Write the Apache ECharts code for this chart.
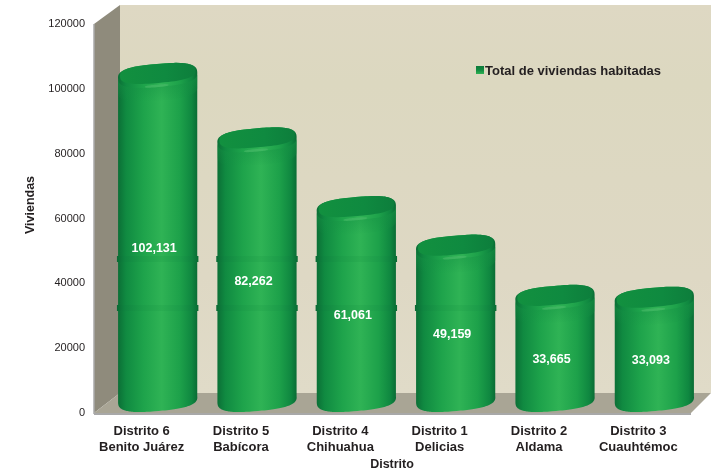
<!DOCTYPE html>
<html><head><meta charset="utf-8">
<style>html,body{margin:0;padding:0;background:#fff}#c{width:711px;height:471px}</style>
<script src="https://cdn.jsdelivr.net/npm/echarts@6/dist/echarts.min.js"></script>
</head><body><div id="c"></div>
<script>
const categories = ['Distrito 6\nBenito Juárez','Distrito 5\nBabícora','Distrito 4\nChihuahua','Distrito 1\nDelicias','Distrito 2\nAldama','Distrito 3\nCuauhtémoc'];
const viviendas = [102131, 82262, 61061, 49159, 33665, 33093];
const valueLabels = ['102,131','82,262','61,061','49,159','33,665','33,093'];
const seriesName = 'Total de viviendas habitadas';
const labelFont = '"Liberation Sans", Arial, sans-serif';

const TILT = -5 * Math.PI / 180, RY = 11.5, TOP_SHIFT = 6.5, BASE_SHIFT = 13.5, EXP = 0.72;
const spow = (a, e) => Math.sign(a) * Math.pow(Math.abs(a), e);
function ell(cx, cy, rx, ry, from, to) {
  const pts = [], n = 80, c = Math.cos(TILT), s = Math.sin(TILT);
  for (let i = 0; i <= n; i++) {
    const t = from + (to - from) * i / n, x = rx * spow(Math.cos(t), EXP), y = ry * spow(Math.sin(t), EXP);
    pts.push([cx + x * c - y * s, cy + x * s + y * c]);
  }
  return pts;
}
const bodyStops = [
  {offset:0,color:'#0b6f36'},{offset:.1,color:'#108a41'},{offset:.32,color:'#1ea34b'},
  {offset:.55,color:'#2fb355'},{offset:.78,color:'#1da14a'},{offset:.93,color:'#0f8740'},{offset:1,color:'#0a6c35'}];

function renderCyl(params, api) {
  const i = api.value(0), v = api.value(1);
  const band = api.size([1, 0])[0];
  const cx = api.coord([i, 0])[0];
  const rx = band * 0.4;
  const topY = api.coord([i, v])[1] - TOP_SHIFT;
  const baseY = api.coord([i, 0])[1] - BASE_SHIFT;
  const midY = api.coord([i, v / 2])[1] + 1.5;
  const outline = ell(cx, topY, rx, RY, Math.PI, 2 * Math.PI).concat(ell(cx, baseY, rx, RY, 0, Math.PI));
  const kids = [{ type:'polygon', shape:{points:outline},
    style:{fill:new echarts.graphic.LinearGradient(0,0,1,0,bodyStops)} }];
  // hoop rings
  [api.coord([i, 47500]), api.coord([i, 32400])].forEach(p => {
    if (p[1] - 12 > topY + RY) {
      kids.push({type:'rect', shape:{x:cx-rx-1,y:p[1]-3,width:2*rx+2,height:6},
        style:{fill:new echarts.graphic.LinearGradient(0,0,1,0,[
          {offset:0,color:'#0a6a34'},{offset:.1,color:'#0f8540'},{offset:.32,color:'#1c9e49'},{offset:.55,color:'#2aad51'},{offset:.78,color:'#1b9c49'},{offset:.93,color:'#0e823f'},{offset:1,color:'#0a6a34'}])}});
    }
  });
  // rim shading below the lid
  kids.push({type:'polygon', shape:{points:ell(cx, topY, rx, RY, 0, Math.PI).concat(ell(cx, topY+14, rx, RY, Math.PI, 0))},
    style:{fill:new echarts.graphic.LinearGradient(0,0,0,1,[{offset:0,color:'rgba(22,145,68,0.7)'},{offset:1,color:'rgba(22,145,68,0)'}])}});
  // lid
  kids.push({type:'polygon', shape:{points:ell(cx, topY-2, rx-2, RY-2, 0, 2*Math.PI)},
    style:{fill:new echarts.graphic.LinearGradient(0,0,1,0,[{offset:0,color:'#12903f'},{offset:.6,color:'#0f8a40'},{offset:1,color:'#0d7e3c'}])}});
  // highlight under the lid's front edge
  kids.push({type:'polygon', shape:{points:ell(cx-1, topY+RY-1, rx*0.3, 1.3, 0, 2*Math.PI)},
    style:{fill:'#4fbb6e',opacity:0.5}});
  kids.push({type:'text', style:{text:valueLabels[i], x:cx-3.5, y:midY, align:'center', verticalAlign:'middle',
    fill:'#fff', font:'bold 12.5px '+labelFont}});
  return {type:'group', children:kids};
}

const chart = echarts.init(document.getElementById('c'), null, {renderer:'canvas'});
const wall = (points, fill) => ({type:'polygon', silent:true, z:0, shape:{points}, style:{fill}});
chart.setOption({
  animation:false,
  backgroundColor:'#fff',
  grid:{left:108,right:7,top:24,bottom:58,containLabel:false,outerBoundsMode:'none'},
  graphic:{elements:[
    {type:'rect',silent:true,z:0,shape:{x:120,y:5,width:591,height:388},
      style:{fill:new echarts.graphic.LinearGradient(0,0,0,1,[{offset:0,color:'#ded8c3'},{offset:.2,color:'#dcd8c0'},{offset:.7,color:'#ded8c4'},{offset:1,color:'#e0dbc8'}])}},
    wall([[94,24],[120,5],[120,393],[94,413]],'#8f8b7c'),
    wall([[94,413],[120,393],[711,393],[691,413]],'#a9a595'),
    {type:'line',silent:true,z:1,shape:{x1:94,y1:24,x2:94,y2:414},style:{stroke:'#a8a8a8',lineWidth:1.5}},
    {type:'line',silent:true,z:1,shape:{x1:94,y1:414,x2:691,y2:414},style:{stroke:'#a8a8a8',lineWidth:2}},
    {type:'rect',silent:true,z:2,shape:{x:476,y:66,width:8,height:8},
      style:{fill:new echarts.graphic.LinearGradient(0,0,0,1,[{offset:0,color:'#0c7a3a'},{offset:.5,color:'#118a40'},{offset:1,color:'#2fb355'}])}},
    {type:'text',silent:true,z:2,style:{text:seriesName,x:485,y:71,verticalAlign:'middle',fill:'#231f20',font:'bold 13px '+labelFont}},
    {type:'text',silent:true,z:2,style:{text:'Distrito',x:392,y:465,align:'center',verticalAlign:'middle',fill:'#231f20',font:'bold 12.5px '+labelFont}},
    {type:'text',silent:true,z:2,rotation:Math.PI/2,x:31,y:205,style:{text:'Viviendas',align:'center',verticalAlign:'middle',fill:'#231f20',font:'bold 12.5px '+labelFont}}
  ]},
  xAxis:{type:'category',data:categories,axisLine:{show:false},axisTick:{show:false},
    axisLabel:{interval:0,margin:10,color:'#231f20',fontFamily:labelFont,fontWeight:'bold',fontSize:13,lineHeight:16,padding:[0,32,0,0]}},
  yAxis:{type:'value',min:0,max:120000,interval:20000,offset:14,
    axisLine:{show:false},axisTick:{show:false},splitLine:{show:false},
    axisLabel:{margin:9,color:'#231f20',fontFamily:labelFont,fontSize:11,formatter:v=>String(v)}},
  series:[{type:'custom',name:seriesName,coordinateSystem:'cartesian2d',renderItem:renderCyl,clip:false,z:5,
    encode:{x:0,y:1},data:viviendas.map((v,i)=>[i,v])}]
});
</script></body></html>
